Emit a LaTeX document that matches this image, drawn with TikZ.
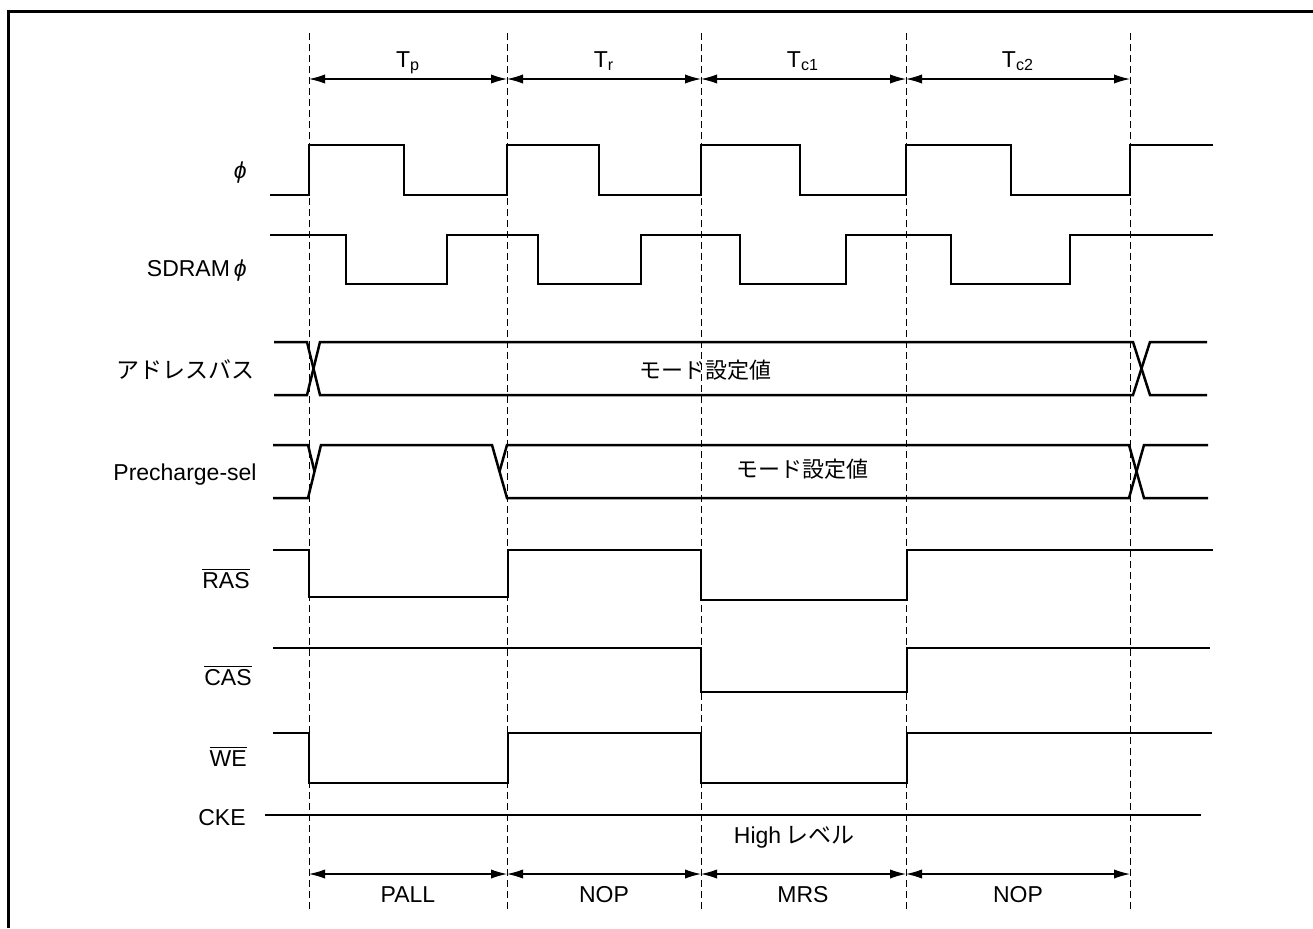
\documentclass[tikz,border=0pt]{standalone}
\usepackage{fontspec}
\setmainfont{Liberation Sans}
\newfontfamily\cjk{Noto Sans CJK JP}
\usetikzlibrary{arrows.meta}

\begin{document}
\begin{tikzpicture}[
    x=0.5pt, y=-0.5pt,
    wave/.style={line width=1.25pt, line join=miter},
    guide/.style={line width=0.45pt, dash pattern=on 3.5pt off 2pt},
    span/.style={{Latex[length=8pt,width=4.6pt]}-{Latex[length=8pt,width=4.6pt]}, line width=0.55pt},
    siglabel/.style={anchor=base east, inner sep=0pt, font=\fontsize{11.5pt}{13pt}\selectfont},
    phaselabel/.style={anchor=base, inner sep=0pt, font=\fontsize{11.5pt}{13pt}\selectfont}
]
\useasboundingbox (0,0) rectangle (1313,928);
\draw[line width=1.5pt] (8,928) -- (8,11) -- (1313,11);

% cycle boundaries
\foreach \x [count=\i from 0] in {309,507,701,906,1130} {
    \draw[guide] (\x,33) -- (\x,910);
    \coordinate (top\i) at (\x,79);
    \coordinate (bot\i) at (\x,874);
}
\draw[span] (top0) -- (top1);
\draw[span] (top1) -- (top2);
\draw[span] (top2) -- (top3);
\draw[span] (top3) -- (top4);
\node[phaselabel] (tp) at (408,67) {T\textsubscript{p}};
\node[phaselabel] (tr) at (604,67) {T\textsubscript{r}};
\node[phaselabel] (tc1) at (803,67) {T\textsubscript{c1}};
\node[phaselabel] (tc2) at (1018,67) {T\textsubscript{c2}};

\draw[span] (bot0) -- (bot1);
\draw[span] (bot1) -- (bot2);
\draw[span] (bot2) -- (bot3);
\draw[span] (bot3) -- (bot4);
\node[phaselabel] (pall) at (408,902) {PALL};
\node[phaselabel] (nop1) at (604,902) {NOP};
\node[phaselabel] (mrs) at (803,902) {MRS};
\node[phaselabel] (nop2) at (1018,902) {NOP};

% signal names
\node[siglabel] (phi) at (247,178) {\itshape ϕ};
\node[siglabel] (sdphi) at (247,276) {SDRAM\,{\itshape ϕ}};
\node[siglabel] (addr) at (255,378) {\cjk アドレスバス};
\node[siglabel] (presel) at (257,480) {Precharge-sel};
\node[siglabel] (ras) at (250,588) {$\overline{\hbox{RAS}}$};
\node[siglabel] (cas) at (252,685) {$\overline{\hbox{CAS}}$};
\node[siglabel] (we) at (247,766) {$\overline{\hbox{WE}}$};
\node[siglabel] (cke) at (246,825) {CKE};

% waveforms
\draw[wave] (270,195) -- (309,195) -- (309,145) -- (404,145) -- (404,195) -- (507,195) -- (507,145)
    -- (599,145) -- (599,195) -- (701,195) -- (701,145) -- (800,145) -- (800,195) -- (906,195)
    -- (906,145) -- (1011,145) -- (1011,195) -- (1130,195) -- (1130,145) -- (1213,145);
\draw[wave] (270,235) -- (346,235) -- (346,284) -- (447,284) -- (447,235) -- (538,235) -- (538,284)
    -- (641,284) -- (641,235) -- (740,235) -- (740,284) -- (846,284) -- (846,235) -- (951,235)
    -- (951,284) -- (1070,284) -- (1070,235) -- (1213,235);

\draw[wave] (274,342) -- (307,342) -- (320,395) -- (1133,395) -- (1150,342) -- (1207,342);
\draw[wave] (274,395) -- (307,395) -- (320,342) -- (1133,342) -- (1150,395) -- (1207,395);
\node[phaselabel] (addrval) at (705,378) {\cjk\fontsize{11pt}{13pt}\selectfont モード設定値};

\draw[wave] (273,498) -- (308,498) -- (321,445) -- (492,445) -- (507,498) -- (1129,498) -- (1144,445) -- (1208,445);
\draw[wave] (273,445) -- (308,445) -- (314.5,471.5);
\draw[wave] (499.5,471.5) -- (507,445) -- (1129,445) -- (1144,498) -- (1208,498);
\node[phaselabel] (preval) at (802,477) {\cjk\fontsize{11pt}{13pt}\selectfont モード設定値};

\draw[wave] (273,550) -- (309,550) -- (309,597) -- (508,597) -- (508,550) -- (701,550) -- (701,600)
    -- (907,600) -- (907,550) -- (1213,550);
\draw[wave] (273,648) -- (701,648) -- (701,692) -- (907,692) -- (907,648) -- (1210,648);
\draw[wave] (273,733) -- (309,733) -- (309,783) -- (508,783) -- (508,733) -- (701,733) -- (701,783)
    -- (907,783) -- (907,733) -- (1212,733);
\draw[wave] (265,815) -- (1201,815);
\node[phaselabel] (high) at (794,843) {High\,{\cjk レベル}};
\end{tikzpicture}
\end{document}
